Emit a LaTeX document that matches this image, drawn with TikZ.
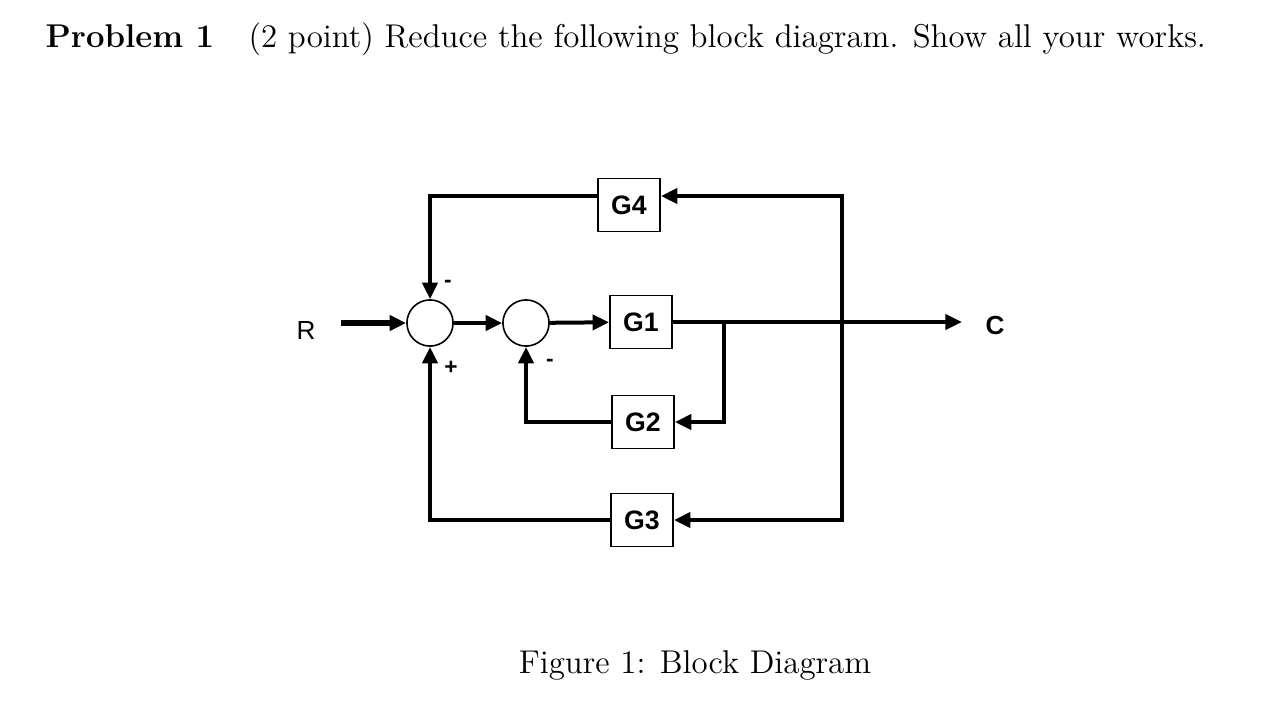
\documentclass[tikz,border=0pt]{standalone}
\usepackage{fontspec}
\newfontfamily\blockfont{Liberation Sans}
\usetikzlibrary{arrows.meta,positioning,calc}

\begin{document}
\begin{tikzpicture}[x=0.375pt,y=-0.375pt,
        >={Triangle[length=6.2pt,width=5.6pt]},
        block/.style={draw,line width=0.6pt,minimum width=23.3pt,
            minimum height=19.8pt,inner sep=0pt,
            font=\blockfont\bfseries\fontsize{10}{11}\selectfont},
        sum/.style={circle,draw,line width=0.6pt,minimum size=17.3pt,
            inner sep=0pt},
        sign/.style={inner sep=0pt,
            font=\blockfont\bfseries\fontsize{8.5}{9}\selectfont},
        wire/.style={line width=1.5pt},
        body/.style={inner sep=0pt,font=\fontsize{12.35}{14}\selectfont}]
    \useasboundingbox (0,0) rectangle (1284,725);

    \node[body,anchor=base west] (head) at (45,47) {\textbf{Problem 1}};
    \node[body,anchor=base west] (task) at (248,47)
        {(2 point) Reduce the following block diagram. Show all your works.};

    \node[sum] (s1) at (430,323) {};
    \node[sum] (s2) at (526,323) {};
    \node[block] (g1) at (641,322) {G1};
    \node[block] (g4) at (629,205) {G4};
    \node[block] (g2) at (643,422) {G2};
    \node[block] (g3) at (642,520) {G3};
    \node[font=\blockfont\fontsize{9.8}{11}\selectfont] (r) at (306,331) {R};
    \node[font=\blockfont\bfseries\fontsize{9.8}{11}\selectfont] (c) at (995,325) {C};

    \node[sign] (m1) at (448,284) {-};
    \node[sign] (p1) at (451,368) {+};
    \node[sign] (m2) at (550,363) {-};

    \coordinate (rin) at (341,323);
    \coordinate (tap1) at (724,322);
    \coordinate (tap2) at (842,322);
    \coordinate (top) at (842,196);
    \coordinate (out) at (962,322);

\draw[->,line width=1.9pt] (rin) -- (s1);
\draw[wire,->] (s1) -- (s2);
\draw[wire,->] (s2) -- (g1);
\draw[wire,->] (g1) -- (out);
\draw[wire,->] (tap1) |- (g2);
\draw[wire,->] (g2) -| (s2);
\draw[wire,->] (tap2) |- (g3);
\draw[wire,->] (tap2) -- (top) -- (top -| g4.east);
\draw[wire,->] (g4.west |- top) -| (s1);
\draw[wire,->] (g3) -| (s1);

    \node[body,anchor=base] (cap) at (695,673) {Figure 1: Block Diagram};
\end{tikzpicture}
\end{document}
